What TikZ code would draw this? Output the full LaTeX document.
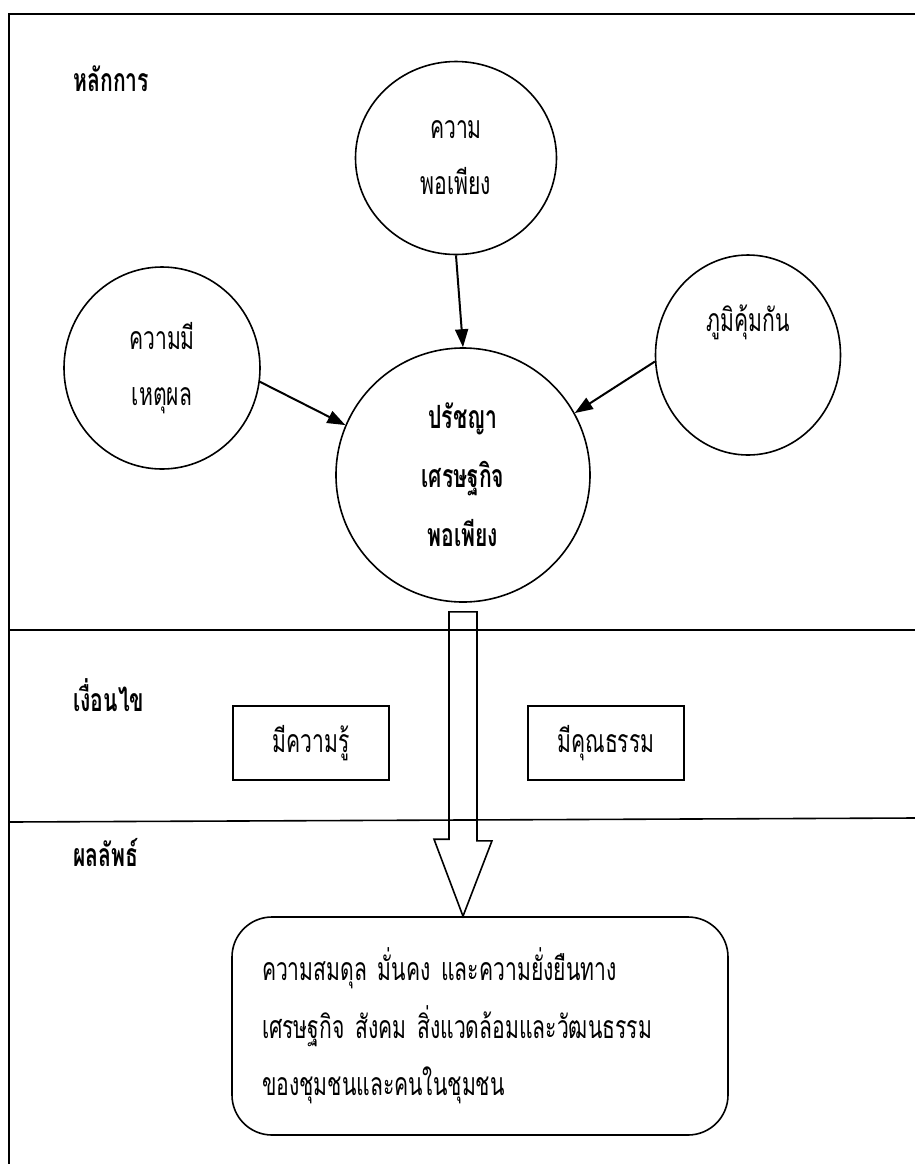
\documentclass[tikz,border=0pt]{standalone}
\usepackage{fontspec}
\newfontfamily\thaifont[Script=Thai, FakeStretch=0.66]{Loma}
\newcommand\thaitext{\thaifont\fontsize{16}{28}\selectfont}
\usetikzlibrary{positioning, calc, arrows.meta, shapes.geometric}

\begin{document}
\begin{tikzpicture}[x=0.5pt, y=-0.5pt, line width=0.8pt, font=\thaitext,
	>={Triangle[length=9pt, width=6.5pt]},
	idea/.style={draw, ellipse, inner sep=0pt, align=center},
	cond/.style={draw, minimum width=78pt, minimum height=37pt},
	heading/.style={anchor=west, font=\thaitext\bfseries}]
\useasboundingbox (0,0) rectangle (915,1164);
\draw[line width=1pt] (915,14) -- (9,14) -- (9,1164);
\draw (9,630) -- (915,630);
\draw (9,822) -- (915,818);
\foreach \n/\t/\y in {principle/หลักการ/79, condition/เงื่อนไข/695, result/ผลลัพธ์/853}
	\node[heading] (\n) at (66,\y) {\t};

\node[idea, minimum width=100.5pt, minimum height=96.5pt] (enough) at (456,158) {ความ\\พอเพียง};
\node[idea, minimum width=98pt, minimum height=101pt] (reason) at (162,368) {ความมี\\เหตุผล};
\node[idea, minimum width=92.5pt, minimum height=100pt] (immune) at (748,355) {ภูมิคุ้มกัน\\[9pt]\mbox{}};
\node[draw, circle, minimum size=127pt, inner sep=0pt, align=center, font=\thaitext\bfseries] (core) at (463,475)
	{ปรัชญา\\[1.5pt]เศรษฐกิจ\\[1.5pt]พอเพียง};
\draw[->, line width=1pt] (enough.south) -- (core.north);
\draw[->, line width=1pt] (reason.-8) -- (core.157);
\draw[->, line width=1pt] (immune.184) -- (core.29);

\foreach \n/\t/\x in {know/มีความรู้/311, moral/มีคุณธรรม/606}
	\node[cond] (\n) at (\x,743) {\t};

\node[draw, rounded corners=20pt, minimum height=109pt, text width=218pt, inner xsep=15pt, align=left] (outcome) at (480,1026)
	{ความสมดุล มั่นคง และความยั่งยืนทาง\\[0.75pt]เศรษฐกิจ สังคม สิ่งแวดล้อมและวัฒนธรรม\\[0.75pt]ของชุมชนและคนในชุมชน};

% hollow arrow down to the outcome
\coordinate (tip) at (core.south |- outcome.north);
\draw (tip) -- ++(-29,-77) -- ++(15,0) |- ($(core.south)+(14,9)$) -- ++(0,229) -- ++(15,0) -- cycle;
\end{tikzpicture}
\end{document}
